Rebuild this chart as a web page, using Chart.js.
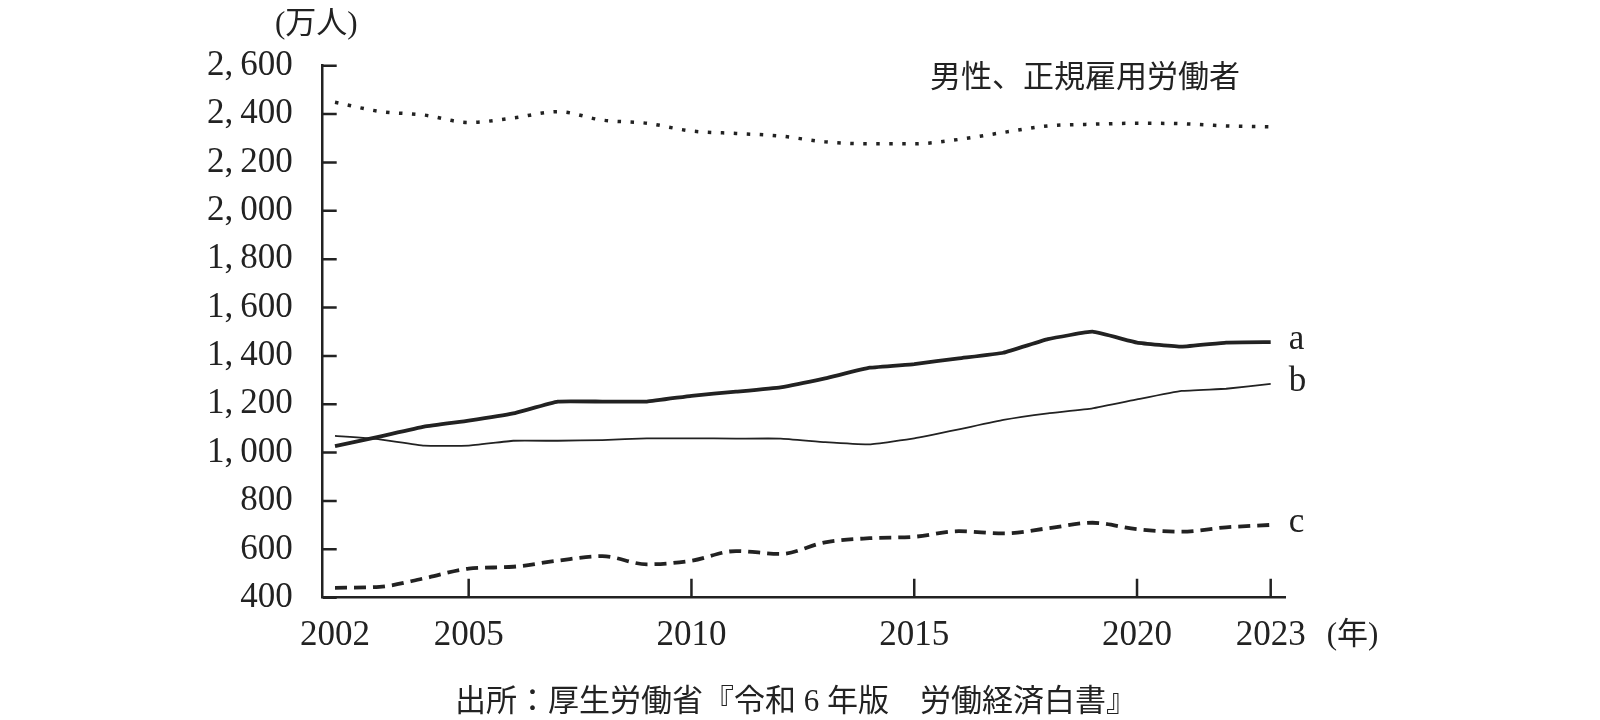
<!DOCTYPE html>
<html lang="ja">
<head>
<meta charset="utf-8">
<title>男性、正規雇用労働者</title>
<script src="https://cdn.jsdelivr.net/npm/chart.js@4.4.1/dist/chart.umd.min.js"></script>
<style>
  html, body { margin: 0; padding: 0; background: #fff; }
  #wrap { width: 1600px; height: 720px; }
</style>
</head>
<body>
<div id="wrap"><canvas id="chart" width="1600" height="720"></canvas></div>
<script>
// data (万人)
const years = [2002, 2003, 2004, 2005, 2006, 2007, 2008, 2009, 2010, 2011, 2012,
  2013, 2014, 2015, 2016, 2017, 2018, 2019, 2020, 2021, 2022, 2023];
const maleRegular = [2449, 2411, 2396, 2365, 2384, 2410, 2375, 2362, 2330, 2320, 2309,
  2285, 2277, 2277, 2295, 2324, 2351, 2358, 2362, 2360, 2351, 2347];
const seriesA = [1027, 1066, 1107, 1132, 1162, 1211, 1211, 1211, 1235, 1252, 1270,
  1307, 1351, 1366, 1390, 1413, 1469, 1500, 1455, 1438, 1455, 1457];
const seriesB = [1069, 1055, 1029, 1029, 1049, 1049, 1052, 1059, 1059, 1058, 1058,
  1043, 1034, 1059, 1096, 1135, 1162, 1183, 1220, 1255, 1264, 1284];
const seriesC = [441, 445, 480, 520, 528, 553, 572, 538, 553, 593, 581,
  629, 646, 652, 675, 666, 687, 710, 683, 673, 691, 701];

const seriesNames = ['男性、正規雇用労働者', 'a', 'b', 'c'];
const xTickYears = [2002, 2005, 2010, 2015, 2020, 2023];
const xTickMarks = [2005, 2010, 2015, 2020, 2023];
const yTicks = [400, 600, 800, 1000, 1200, 1400, 1600, 1800, 2000, 2200, 2400, 2600];

const ink = '#222';
const serif = '"Liberation Serif", "Noto Sans CJK JP", serif';
const cjk = '"Liberation Serif", "Noto Sans CJK JP", sans-serif';

Chart.defaults.color = ink;
Chart.defaults.font.family = serif;

function points(values) {
  return years.map((yr, i) => ({ x: yr, y: values[i] }));
}

// inward tick marks, series letters and free text
const decorations = {
  id: 'decorations',
  afterDraw(chart) {
    const { ctx, chartArea } = chart;
    const x = chart.scales.x;
    const y = chart.scales.y;
    ctx.save();
    ctx.strokeStyle = ink;
    ctx.lineWidth = 2.5;
    ctx.beginPath();
    yTicks.forEach(v => {
      const py = y.getPixelForValue(v);
      ctx.moveTo(chartArea.left, py);
      ctx.lineTo(chartArea.left + 14, py);
    });
    xTickMarks.forEach(v => {
      const px = x.getPixelForValue(v);
      ctx.moveTo(px, chartArea.bottom);
      ctx.lineTo(px, chartArea.bottom - 19);
    });
    ctx.stroke();

    ctx.fillStyle = ink;
    ctx.textBaseline = 'middle';

    // letters at the end of a, b, c
    ctx.font = '35px ' + serif;
    ctx.textAlign = 'left';
    [1, 2, 3].forEach(i => {
      const pts = chart.getDatasetMeta(i).data;
      const last = pts[pts.length - 1];
      ctx.fillText(seriesNames[i], last.x + 18, last.y - 2);
    });

    // label of the dotted series
    ctx.font = '31px ' + cjk;
    ctx.textAlign = 'left';
    ctx.fillText(seriesNames[0], 930, 79);

    // units
    ctx.font = '31px ' + cjk;
    ctx.fillText('(万人)', 275, 25);
    const endX = x.getPixelForValue(2023);
    ctx.fillText('(年)', endX + 56, 636);

    // source
    ctx.font = '31px ' + cjk;
    ctx.textAlign = 'center';
    ctx.fillText('出所：厚生労働省『令和 6 年版　労働経済白書』', 796, 703);
    ctx.restore();
  }
};

const ctx = document.getElementById('chart').getContext('2d');
new Chart(ctx, {
  type: 'line',
  data: {
    datasets: [
      {
        label: seriesNames[0],
        data: points(maleRegular),
        borderColor: ink,
        borderWidth: 3.5,
        borderDash: [3.5, 9.5],
        borderCapStyle: 'butt',
        pointRadius: 0,
        cubicInterpolationMode: 'monotone'
      },
      {
        label: seriesNames[1],
        data: points(seriesA),
        borderColor: ink,
        borderWidth: 3.8,
        pointRadius: 0,
        tension: 0.1
      },
      {
        label: seriesNames[2],
        data: points(seriesB),
        borderColor: ink,
        borderWidth: 1.8,
        pointRadius: 0,
        tension: 0.1
      },
      {
        label: seriesNames[3],
        data: points(seriesC),
        borderColor: ink,
        borderWidth: 3.8,
        borderDash: [12, 7],
        borderCapStyle: 'butt',
        pointRadius: 0,
        cubicInterpolationMode: 'monotone'
      }
    ]
  },
  options: {
    responsive: false,
    animation: false,
    events: [],
    layout: {
      padding: { left: 162.7, right: 315, top: 65.7, bottom: 62.3 }
    },
    plugins: {
      legend: { display: false },
      tooltip: { enabled: false }
    },
    scales: {
      x: {
        type: 'linear',
        min: 2001.724,
        max: 2023.321,
        afterBuildTicks: scale => {
          scale.ticks = xTickYears.map(v => ({ value: v }));
        },
        afterFit: scale => { scale.height = 60; },
        grid: { display: false, drawTicks: false },
        border: { display: true, color: ink, width: 2.5 },
        ticks: {
          font: { size: 35, family: serif },
          padding: 17,
          maxRotation: 0,
          autoSkip: false,
          callback: v => String(v)
        }
      },
      y: {
        min: 400,
        max: 2600,
        afterBuildTicks: scale => {
          scale.ticks = yTicks.map(v => ({ value: v }));
        },
        afterFit: scale => { scale.width = 160; },
        grid: { display: false, drawTicks: false },
        border: { display: true, color: ink, width: 2.5 },
        ticks: {
          font: { size: 35, family: serif },
          padding: 30,
          autoSkip: false,
          callback: v => v.toLocaleString('en-US').replace(',', ',\u2009')
        }
      }
    }
  },
  plugins: [decorations]
});
</script>
</body>
</html>
